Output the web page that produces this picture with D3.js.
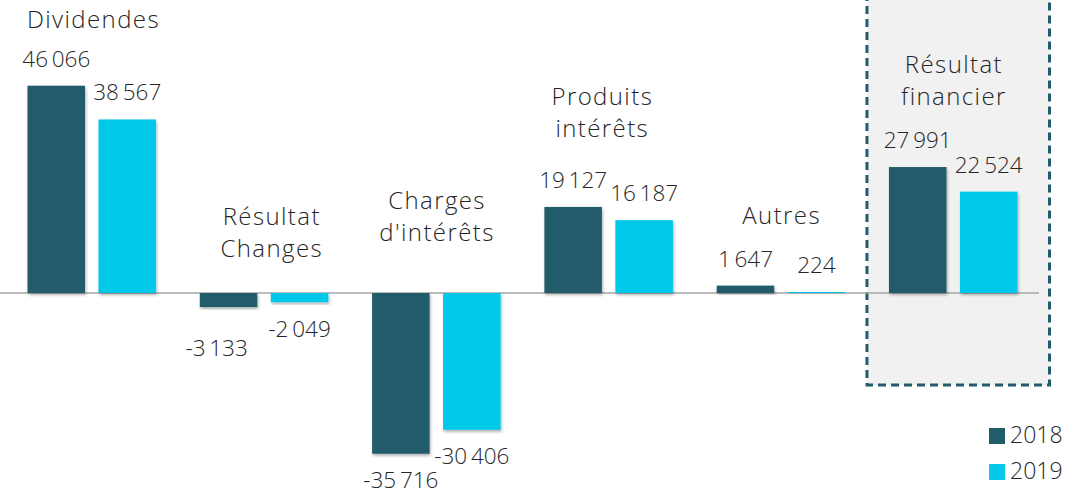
<!DOCTYPE html>
<html>
<head>
<meta charset="utf-8">
<script src="https://cdn.jsdelivr.net/npm/d3@7"></script>
<style>
  html, body { margin: 0; padding: 0; background: #fff; }
  svg text { font-family: "Open Sans", Lato, sans-serif; font-weight: 300; fill: #262626; }
</style>
</head>
<body>
<svg id="chart" width="1066" height="494"></svg>
<script>
// données
const categories = ["Dividendes", "Résultat Changes", "Charges d'intérêts", "Produits intérêts", "Autres", "Résultat financier"];
const categoryLines = [["Dividendes"], ["Résultat", "Changes"], ["Charges", "d'intérêts"], ["Produits", "intérêts"], ["Autres"], ["Résultat", "financier"]];
const series = ["2018", "2019"];
const values2018 = [46066, -3133, -35716, 19127, 1647, 27991];
const values2019 = [38567, -2049, -30406, 16187, 224, 22524];

const colors = { "2018": "#225b6a", "2019": "#06c8e8" };

// mise en page des libellés de catégories (décalage x, ligne de base y)
const catLabelLayout = [
  { dx: 1, y: 28 }, { dx: 7, y: 225 }, { dx: 0, y: 209 },
  { dx: -7, y: 105 }, { dx: 0, y: 224 }, { dx: 0, y: 73 }
];
// étiquette déplacée à la main dans l'original
const labelNudge = { "1-2018": { dx: -12, dy: 14 } };

const svg = d3.select("#chart");

const x0 = d3.scaleBand().domain(categories).range([27.5, 1017.5]).paddingInner(0.254).paddingOuter(0);
const x1 = d3.scaleBand().domain(series).range([0, x0.bandwidth()]).paddingInner(0.19).paddingOuter(0);
const y = d3.scaleLinear().domain([-40000, 50000]).range([473, 68]);

const data = categories.map((c, i) => ({
  cat: c, i: i,
  vals: [{ s: "2018", v: values2018[i] }, { s: "2019", v: values2019[i] }]
}));

// ombre portée des barres
const defs = svg.append("defs");
const f = defs.append("filter").attr("id", "shadow").attr("x", "-20%").attr("y", "-20%").attr("width", "140%").attr("height", "140%");
f.append("feDropShadow").attr("dx", 1).attr("dy", 2).attr("stdDeviation", 1.6)
  .attr("flood-color", "#000").attr("flood-opacity", 0.3);

// encadré du résultat financier
const last = categories[categories.length - 1];
const boxX = x0(last) - 22;
svg.append("rect")
  .attr("x", boxX).attr("y", -10)
  .attr("width", x0.bandwidth() + 54).attr("height", 395)
  .attr("fill", "#f1f1f1")
  .attr("stroke", "#225b6a").attr("stroke-width", 3)
  .attr("stroke-dasharray", "8,5");

// ligne de zéro
svg.append("line")
  .attr("x1", 0).attr("x2", 1039)
  .attr("y1", y(0)).attr("y2", y(0))
  .attr("stroke", "#a6a6a6").attr("stroke-width", 1.5);

const groups = svg.selectAll(".grp").data(data).enter().append("g")
  .attr("class", "grp")
  .attr("transform", d => `translate(${x0(d.cat)},0)`);

groups.selectAll("rect").data(d => d.vals).enter().append("rect")
  .attr("x", d => x1(d.s))
  .attr("width", x1.bandwidth())
  .attr("y", d => y(Math.max(0, d.v)))
  .attr("height", d => Math.abs(y(d.v) - y(0)))
  .attr("fill", d => colors[d.s])
  .attr("filter", "url(#shadow)");

// espace fine comme séparateur de milliers
const fmt = v => d3.format(",")(v).replace(/,/g, "\u2009").replace("−", "-");

groups.each(function (g) {
  d3.select(this).selectAll("text.val").data(g.vals).enter().append("text")
    .attr("class", "val")
    .attr("text-anchor", "middle")
    .attr("font-size", 22.5)
    .attr("x", d => {
      const n = labelNudge[g.i + "-" + d.s];
      return x1(d.s) + x1.bandwidth() / 2 + (n ? n.dx : 0);
    })
    .attr("y", d => {
      const n = labelNudge[g.i + "-" + d.s];
      const base = d.v >= 0 ? y(d.v) - 19 : y(d.v) + 34.5;
      return base + (n ? n.dy : 0);
    })
    .text(d => fmt(d.v));
});

// libellés de catégories
data.forEach((d, i) => {
  const lay = catLabelLayout[i];
  const cx = x0(d.cat) + x0.bandwidth() / 2 + lay.dx + 0.7;
  const t = svg.append("text")
    .attr("text-anchor", "middle")
    .attr("font-size", 24)
    .attr("letter-spacing", 1.4)
    .attr("x", cx)
    .attr("y", lay.y);
  categoryLines[i].forEach((line, k) => {
    t.append("tspan")
      .attr("x", cx)
      .attr("dy", k === 0 ? 0 : 32)
      .text(line);
  });
});

// légende
const legend = svg.append("g").attr("transform", "translate(989,428)");
series.forEach((s, i) => {
  const row = legend.append("g").attr("transform", `translate(0,${i * 36})`);
  row.append("rect").attr("width", 16).attr("height", 16).attr("fill", colors[s]);
  row.append("text").attr("x", 21).attr("y", 15).attr("font-size", 23).text(s);
});
</script>
</body>
</html>
